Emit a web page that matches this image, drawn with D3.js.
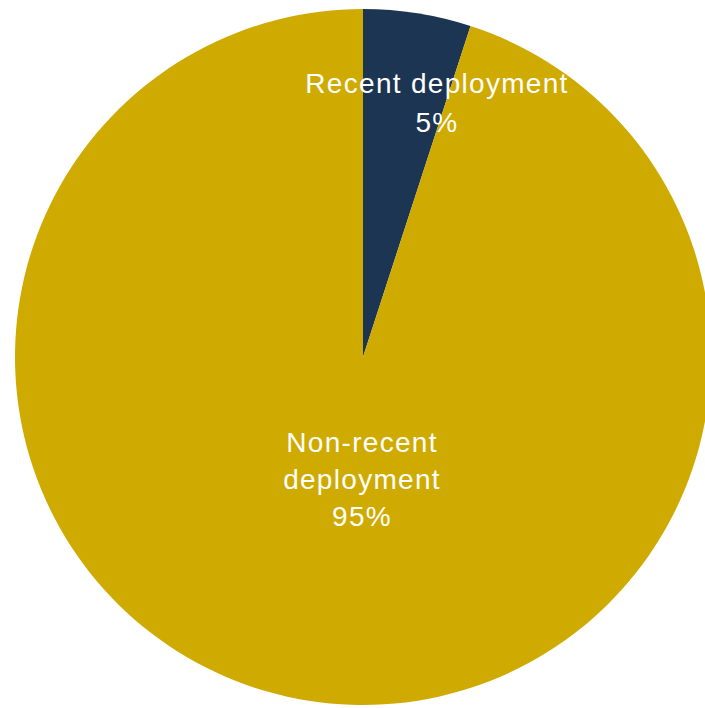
<!DOCTYPE html>
<html>
<head>
<meta charset="utf-8">
<script src="https://cdn.jsdelivr.net/npm/d3@7"></script>
<style>
  html, body { margin: 0; padding: 0; background: #ffffff; }
  svg { display: block; }
  text { font-family: "Liberation Sans", Arial, Helvetica, sans-serif; fill: #ffffff; }
</style>
</head>
<body>
<svg id="chart" width="705" height="708"></svg>
<script>
// Share of deployments by recency
const categories = ["Recent deployment", "Non-recent deployment"];
const shares = [5, 95];
const labelLines = [["Recent deployment", "5%"], ["Non-recent", "deployment", "95%"]];
const colors = ["#1c3553", "#cfaa00"];

const svg = d3.select("#chart");
const cx = 363, cy = 357, radius = 348;

const data = categories.map((c, i) => ({ category: c, value: shares[i], lines: labelLines[i] }));

const pie = d3.pie().value(d => d.value).sort(null);
const arc = d3.arc().innerRadius(0).outerRadius(radius);
const color = d3.scaleOrdinal().domain(categories).range(colors);

const g = svg.append("g").attr("transform", `translate(${cx},${cy})`);
const arcs = pie(data);

g.selectAll("path.slice")
  .data(arcs)
  .join("path")
  .attr("class", "slice")
  .attr("d", arc)
  .attr("fill", d => color(d.data.category));

// label positions: first baseline relative to the centre, and line spacing
const labelPos = [[74, -264], [-1, 95]];
const lineGap = [39, 37];

g.selectAll("text.label")
  .data(arcs)
  .join("text")
  .attr("class", "label")
  .attr("text-anchor", "middle")
  .style("font-size", "28px")
  .style("letter-spacing", "1.3px")
  .each(function(d, i) {
    const t = d3.select(this);
    d.data.lines.forEach((line, j) => {
      t.append("tspan")
        .attr("x", labelPos[i][0])
        .attr("y", labelPos[i][1] + j * lineGap[i])
        .text(line);
    });
  });
</script>
</body>
</html>
